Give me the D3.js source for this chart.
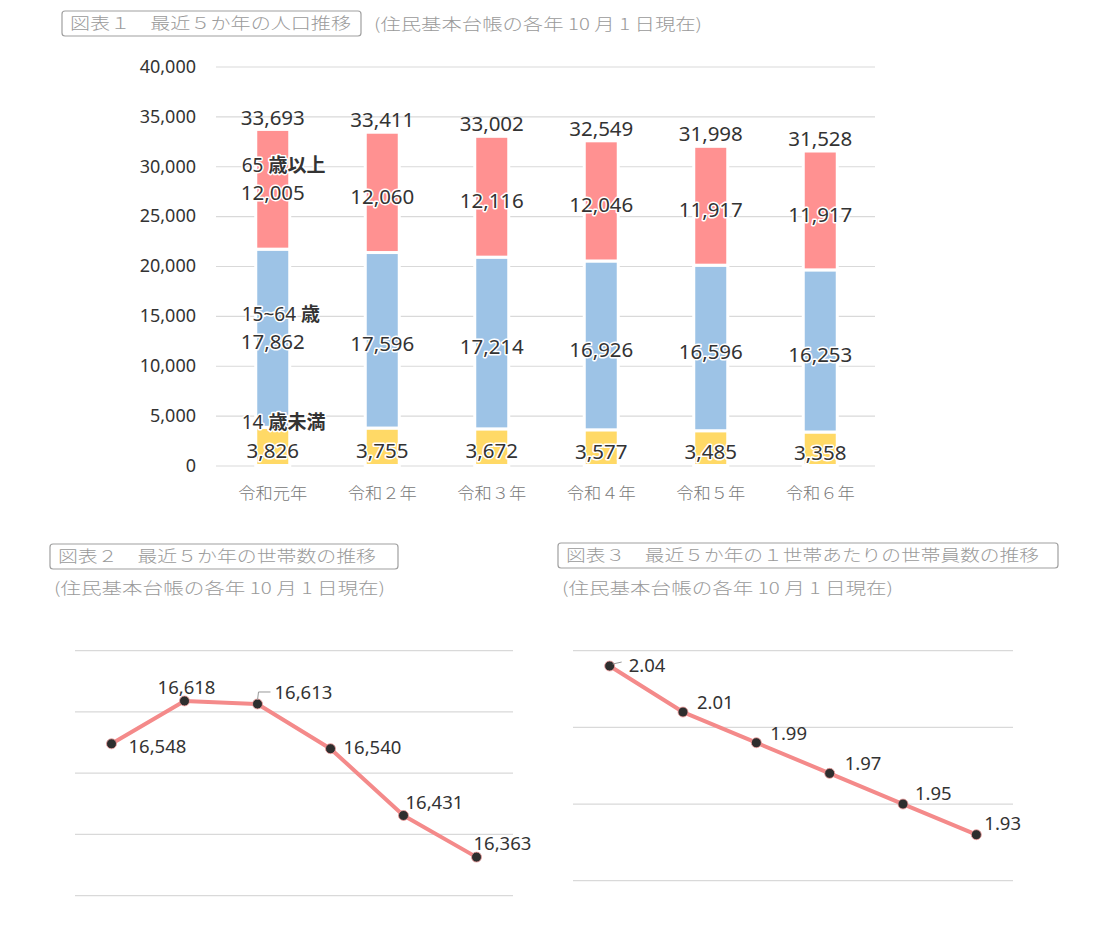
<!DOCTYPE html>
<html><head><meta charset="utf-8">
<script src="https://cdn.jsdelivr.net/npm/d3@7"></script>
<style>
html,body{margin:0;padding:0;background:#fff;}
svg{display:block;}
text{font-family:"Noto Sans","Noto Sans CJK JP",sans-serif;}
.jp{font-family:"Noto Sans CJK JP","Noto Sans",sans-serif;}
</style></head>
<body>
<svg id="c" width="1106" height="938"></svg>
<script>
// ---------- data ----------
const years = ["令和元年","令和２年","令和３年","令和４年","令和５年","令和６年"];
const under15 = [3826, 3755, 3672, 3577, 3485, 3358];
const age15to64 = [17862, 17596, 17214, 16926, 16596, 16253];
const over65 = [12005, 12060, 12116, 12046, 11917, 11917];
const totals = [33693, 33411, 33002, 32549, 31998, 31528];
const popTicks = [0, 5000, 10000, 15000, 20000, 25000, 30000, 35000, 40000];
const seriesNames = ["14 歳未満", "15~64 歳", "65 歳以上"];

const households = [16548, 16618, 16613, 16540, 16431, 16363];
const hhTicks = [16300, 16400, 16500, 16600, 16700];

const perHousehold = [2.04, 2.01, 1.99, 1.97, 1.95, 1.93];
const perTicks = [1.90, 1.95, 2.00, 2.05];

const title1 = "図表１　最近５か年の人口推移";
const title2 = "図表２　最近５か年の世帯数の推移";
const title3 = "図表３　最近５か年の１世帯あたりの世帯員数の推移";
const subTitle = "(住民基本台帳の各年 10 月 1 日現在)";

// ---------- styles ----------
const colors = ["#ffd966", "#9dc3e6", "#ff9191"];
const lineColor = "#f48a8a";
const gridColor = "#d9d9d9";
const textDark = "#333";
const textGray = "#9a9a9a";

const svg = d3.select("#c");
svg.append("rect").attr("width",1106).attr("height",938).attr("fill","#fff");

function titleBox(x, y, w, h, txt, tw){
  svg.append("rect").attr("x",x).attr("y",y).attr("width",w).attr("height",h)
    .attr("rx",3).attr("fill","none").attr("stroke","#a0a0a0").attr("stroke-width",1.2);
  svg.append("text").attr("class","jp").attr("x",x+8).attr("y",y+h/2).attr("dy","0.36em")
    .attr("font-size",16).attr("font-weight",300).attr("fill",textGray)
    .attr("textLength",tw).attr("lengthAdjust","spacingAndGlyphs").text(txt);
}
function subText(x, y, tw){
  svg.append("text").attr("class","jp").attr("x",x).attr("y",y).attr("dy","0.36em")
    .attr("font-size",16).attr("font-weight",300).attr("fill",textGray)
    .attr("textLength",tw).attr("lengthAdjust","spacingAndGlyphs").text(subTitle);
}
function halo(sel){
  return sel.attr("stroke","#fff").attr("stroke-width",3).attr("paint-order","stroke").attr("stroke-linejoin","round");
}

// ---------- chart 1 ----------
titleBox(62, 11, 299, 25, title1, 281);
subText(374, 24, 328);

const g1 = svg.append("g");
const y1 = d3.scaleLinear().domain([0,40000]).range([465.5, 66.5]);
const x1 = d3.scaleBand().domain(years).range([218, 875]);
const barW = 34;

const gridAxis = d3.axisLeft(y1).tickValues(popTicks).tickFormat(d3.format(","))
  .tickSizeInner(-659).tickSizeOuter(0).tickPadding(20);
const ga = g1.append("g").attr("transform","translate(216,0)").call(gridAxis);
ga.select(".domain").remove();
ga.selectAll("line").attr("stroke",gridColor).attr("stroke-width",1.2);
ga.selectAll("text").attr("font-size",18).attr("fill",textDark);

const xa = g1.append("g").attr("transform","translate(0,465.5)")
  .call(d3.axisBottom(x1).tickSize(0).tickPadding(22));
xa.select(".domain").remove();
xa.selectAll("text").attr("class","jp").attr("font-size",16).attr("font-weight",300).attr("fill","#777")
  .attr("textLength",69).attr("lengthAdjust","spacingAndGlyphs");

const stackData = years.map((yr,i)=>({year:yr, a:under15[i], b:age15to64[i], c:over65[i]}));
const stacked = d3.stack().keys(["a","b","c"])(stackData);
const cx = d => x1(d) + x1.bandwidth()/2;

stacked.forEach((layer, li)=>{
  g1.append("g").selectAll("rect").data(layer).join("rect")
    .attr("x", d=>cx(d.data.year)-barW/2)
    .attr("width", barW)
    .attr("y", d=>y1(d[1]))
    .attr("height", d=>y1(d[0])-y1(d[1]))
    .attr("fill", colors[li])
    .attr("stroke","#fff").attr("stroke-width",3);
});

// segment value labels
stacked.forEach((layer, li)=>{
  halo(g1.append("g").selectAll("text").data(layer).join("text")
    .attr("x", d=>cx(d.data.year))
    .attr("y", d=>y1((d[0]+d[1])/2)+4)
    .attr("dy","0.35em")
    .attr("text-anchor","middle")
    .attr("font-size",20.5).attr("fill",textDark)
    .text(d=>d3.format(",")(d[1]-d[0])));
  // series name above the first bar's label
  const d0 = layer[0];
  const nm = seriesNames[li];
  const sp = nm.indexOf(" ");
  const t = g1.append("text")
    .attr("x", cx(d0.data.year)-31)
    .attr("y", y1((d0[0]+d0[1])/2)+4-28)
    .attr("dy","0.35em")
    .attr("font-size",19).attr("fill",textDark);
  halo(t);
  t.append("tspan").text(nm.slice(0,sp+1));
  t.append("tspan").attr("class","jp").attr("font-weight","bold").text(nm.slice(sp+1));
});

// totals
g1.append("g").selectAll("text").data(years).join("text")
  .attr("x", d=>cx(d))
  .attr("y", (d,i)=>y1(totals[i])-12)
  .attr("dy","0.35em")
  .attr("text-anchor","middle")
  .attr("font-size",20.5).attr("fill",textDark)
  .text((d,i)=>d3.format(",")(totals[i]));

// ---------- chart 2 ----------
titleBox(50, 544, 348, 25, title2, 318);
subText(54, 588, 331);

const g2 = svg.append("g");
const x2 = d3.scalePoint().domain(years).range([75, 513]).padding(0.5);
const y2 = d3.scaleLinear().domain([16300,16700]).range([895.7, 650.7]);
g2.append("g").selectAll("line").data(hhTicks).join("line")
  .attr("x1",75).attr("x2",513).attr("y1",d=>y2(d)).attr("y2",d=>y2(d))
  .attr("stroke",gridColor).attr("stroke-width",1.2);
g2.append("path").datum(households)
  .attr("d", d3.line().x((d,i)=>x2(years[i])).y(d=>y2(d)))
  .attr("fill","none").attr("stroke",lineColor).attr("stroke-width",4).attr("stroke-linejoin","round");
g2.append("g").selectAll("circle").data(households).join("circle")
  .attr("cx",(d,i)=>x2(years[i])).attr("cy",d=>y2(d)).attr("r",5)
  .attr("fill","#2e2e2e").attr("stroke","#f4a0a0").attr("stroke-width",0.8);
const off2 = [[17,3,"start"],[2,-13,"middle"],[17,-11,"start"],[13,-1,"start"],[2,-13,"start"],[-3,-14,"start"]];
{
  const px = x2(years[2]), py = y2(households[2]);
  g2.append("path").attr("d",`M${px},${py-4}L${px+1},${py-12}L${px+13},${py-12}`)
    .attr("fill","none").attr("stroke","#999").attr("stroke-width",1);
}
g2.append("g").selectAll("text").data(households).join("text")
  .attr("x",(d,i)=>x2(years[i])+off2[i][0])
  .attr("y",(d,i)=>y2(d)+off2[i][1])
  .attr("dy","0.35em")
  .attr("text-anchor",(d,i)=>off2[i][2])
  .attr("font-size",18.5).attr("fill",textDark)
  .text(d=>d3.format(",")(d));

// ---------- chart 3 ----------
titleBox(558, 543, 500, 25, title3, 473);
subText(562, 588, 331);

const g3 = svg.append("g");
const x3 = d3.scalePoint().domain(years).range([573, 1013]).padding(0.5);
const y3 = d3.scaleLinear().domain([1.90,2.05]).range([880.7, 650.7]);
g3.append("g").selectAll("line").data(perTicks).join("line")
  .attr("x1",573).attr("x2",1013).attr("y1",d=>y3(d)).attr("y2",d=>y3(d))
  .attr("stroke",gridColor).attr("stroke-width",1.2);
g3.append("path").datum(perHousehold)
  .attr("d", d3.line().x((d,i)=>x3(years[i])).y(d=>y3(d)))
  .attr("fill","none").attr("stroke",lineColor).attr("stroke-width",4).attr("stroke-linejoin","round");
g3.append("g").selectAll("circle").data(perHousehold).join("circle")
  .attr("cx",(d,i)=>x3(years[i])).attr("cy",d=>y3(d)).attr("r",5)
  .attr("fill","#2e2e2e").attr("stroke","#f4a0a0").attr("stroke-width",0.8);
const off3 = [[19,-1],[14,-10],[14,-9],[15,-10],[12,-11],[8,-11]];
{
  const px = x3(years[0]), py = y3(perHousehold[0]);
  g3.append("path").attr("d",`M${px+3},${py-2}L${px+12},${py-4}`)
    .attr("fill","none").attr("stroke","#999").attr("stroke-width",1);
}
g3.append("g").selectAll("text").data(perHousehold).join("text")
  .attr("x",(d,i)=>x3(years[i])+off3[i][0])
  .attr("y",(d,i)=>y3(d)+off3[i][1])
  .attr("dy","0.35em")
  .attr("font-size",18.5).attr("fill",textDark)
  .text(d=>d3.format(".2f")(d));
</script>
</body></html>
